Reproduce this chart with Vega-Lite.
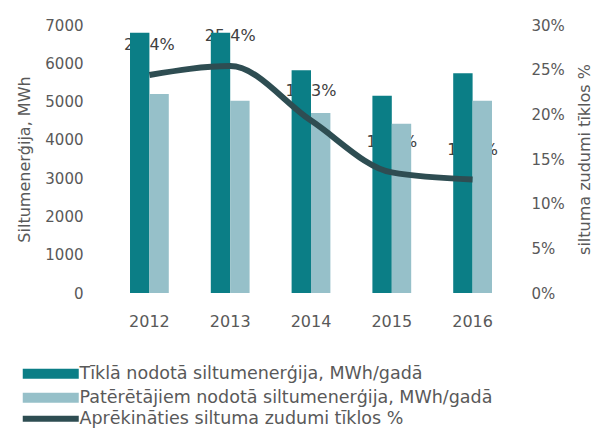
{
  "$schema": "https://vega.github.io/schema/vega-lite/v6.json",
  "autosize": {"type": "none"},
  "width": 404,
  "height": 268,
  "padding": {"left": 109, "top": 25, "right": 86, "bottom": 144},
  "background": "white",
  "config": {
    "view": {"stroke": null},
    "font": "DejaVu Sans",
    "axis": {"labelFont": "DejaVu Sans", "labelFontSize": 15, "labelColor": "#595959", "titleFont": "DejaVu Sans", "titleFontSize": 16, "titleFontWeight": "normal", "titleColor": "#595959", "domain": false, "ticks": false, "grid": false},
    "legend": {"labelFont": "DejaVu Sans", "labelFontSize": 17.5, "labelColor": "#595959", "labelLimit": 600}
  },
  "datasets": {
    "bars": [
      {"year": "2012", "series": "Tīklā nodotā siltumenerģija, MWh/gadā", "value": 6800},
      {"year": "2012", "series": "Patērētājiem nodotā siltumenerģija, MWh/gadā", "value": 5200},
      {"year": "2013", "series": "Tīklā nodotā siltumenerģija, MWh/gadā", "value": 6800},
      {"year": "2013", "series": "Patērētājiem nodotā siltumenerģija, MWh/gadā", "value": 5020},
      {"year": "2014", "series": "Tīklā nodotā siltumenerģija, MWh/gadā", "value": 5820},
      {"year": "2014", "series": "Patērētājiem nodotā siltumenerģija, MWh/gadā", "value": 4700},
      {"year": "2015", "series": "Tīklā nodotā siltumenerģija, MWh/gadā", "value": 5150},
      {"year": "2015", "series": "Patērētājiem nodotā siltumenerģija, MWh/gadā", "value": 4420},
      {"year": "2016", "series": "Tīklā nodotā siltumenerģija, MWh/gadā", "value": 5740},
      {"year": "2016", "series": "Patērētājiem nodotā siltumenerģija, MWh/gadā", "value": 5020}
    ],
    "loss": [
      {"year": "2012", "s": "Aprēkināties siltuma zudumi tīklos %", "pct": 0.244},
      {"year": "2013", "s": "Aprēkināties siltuma zudumi tīklos %", "pct": 0.254},
      {"year": "2014", "s": "Aprēkināties siltuma zudumi tīklos %", "pct": 0.193},
      {"year": "2015", "s": "Aprēkināties siltuma zudumi tīklos %", "pct": 0.135},
      {"year": "2016", "s": "Aprēkināties siltuma zudumi tīklos %", "pct": 0.127}
    ]
  },
  "encoding": {
    "x": {"field": "year", "type": "nominal", "sort": null,
      "scale": {"paddingInner": 0.52, "paddingOuter": 0.26},
      "axis": {"title": null, "labelAngle": 0, "labelPadding": 20, "labelFontSize": 16}}
  },
  "layer": [
    {
      "data": {"name": "loss"},
      "mark": {"type": "text", "dy": -30, "fontSize": 16, "color": "#404040", "font": "DejaVu Sans"},
      "encoding": {
        "y": {"field": "pct", "type": "quantitative", "scale": {"domain": [0, 0.3]}, "axis": null},
        "text": {"field": "pct", "type": "quantitative", "format": ".1%"}
      }
    },
    {
      "data": {"name": "bars"},
      "mark": {"type": "bar"},
      "encoding": {
        "xOffset": {"field": "series", "type": "nominal", "sort": null, "scale": {"paddingInner": 0, "paddingOuter": 0}},
        "y": {"field": "value", "type": "quantitative", "scale": {"domain": [0, 7000]},
          "axis": {"title": "Siltumenerģija, MWh", "format": "d", "values": [0, 1000, 2000, 3000, 4000, 5000, 6000, 7000], "labelPadding": 26, "titlePadding": 12}},
        "color": {"field": "series", "type": "nominal", "sort": null,
          "scale": {"domain": ["Tīklā nodotā siltumenerģija, MWh/gadā", "Patērētājiem nodotā siltumenerģija, MWh/gadā"], "range": ["#0b7e86", "#96c0c9"]},
          "legend": {"title": null, "orient": "none", "legendX": -67, "legendY": 340, "symbolType": "M-5.6,-1H5.6V1H-5.6Z", "symbolSize": 100, "symbolOpacity": 1, "rowPadding": 5, "labelOffset": 20}}
      }
    },
    {
      "data": {"name": "loss"},
      "mark": {"type": "line", "strokeWidth": 6, "interpolate": "monotone"},
      "encoding": {
        "y": {"field": "pct", "type": "quantitative", "scale": {"domain": [0, 0.3]},
          "axis": {"orient": "right", "title": "siltuma zudumi tīklos %", "format": ".0%", "values": [0, 0.05, 0.1, 0.15, 0.2, 0.25, 0.3], "labelPadding": 18, "titlePadding": 12, "titleAngle": -90, "titleBaseline": "top"}},
        "stroke": {"field": "s", "type": "nominal",
          "scale": {"range": ["#2e4d52"]},
          "legend": {"title": null, "orient": "none", "legendX": -67, "legendY": 385, "symbolType": "M-5.6,0H5.6", "symbolSize": 100, "symbolStrokeWidth": 6, "labelOffset": 20}}
      }
    }
  ],
  "resolve": {"scale": {"y": "independent"}}
}
